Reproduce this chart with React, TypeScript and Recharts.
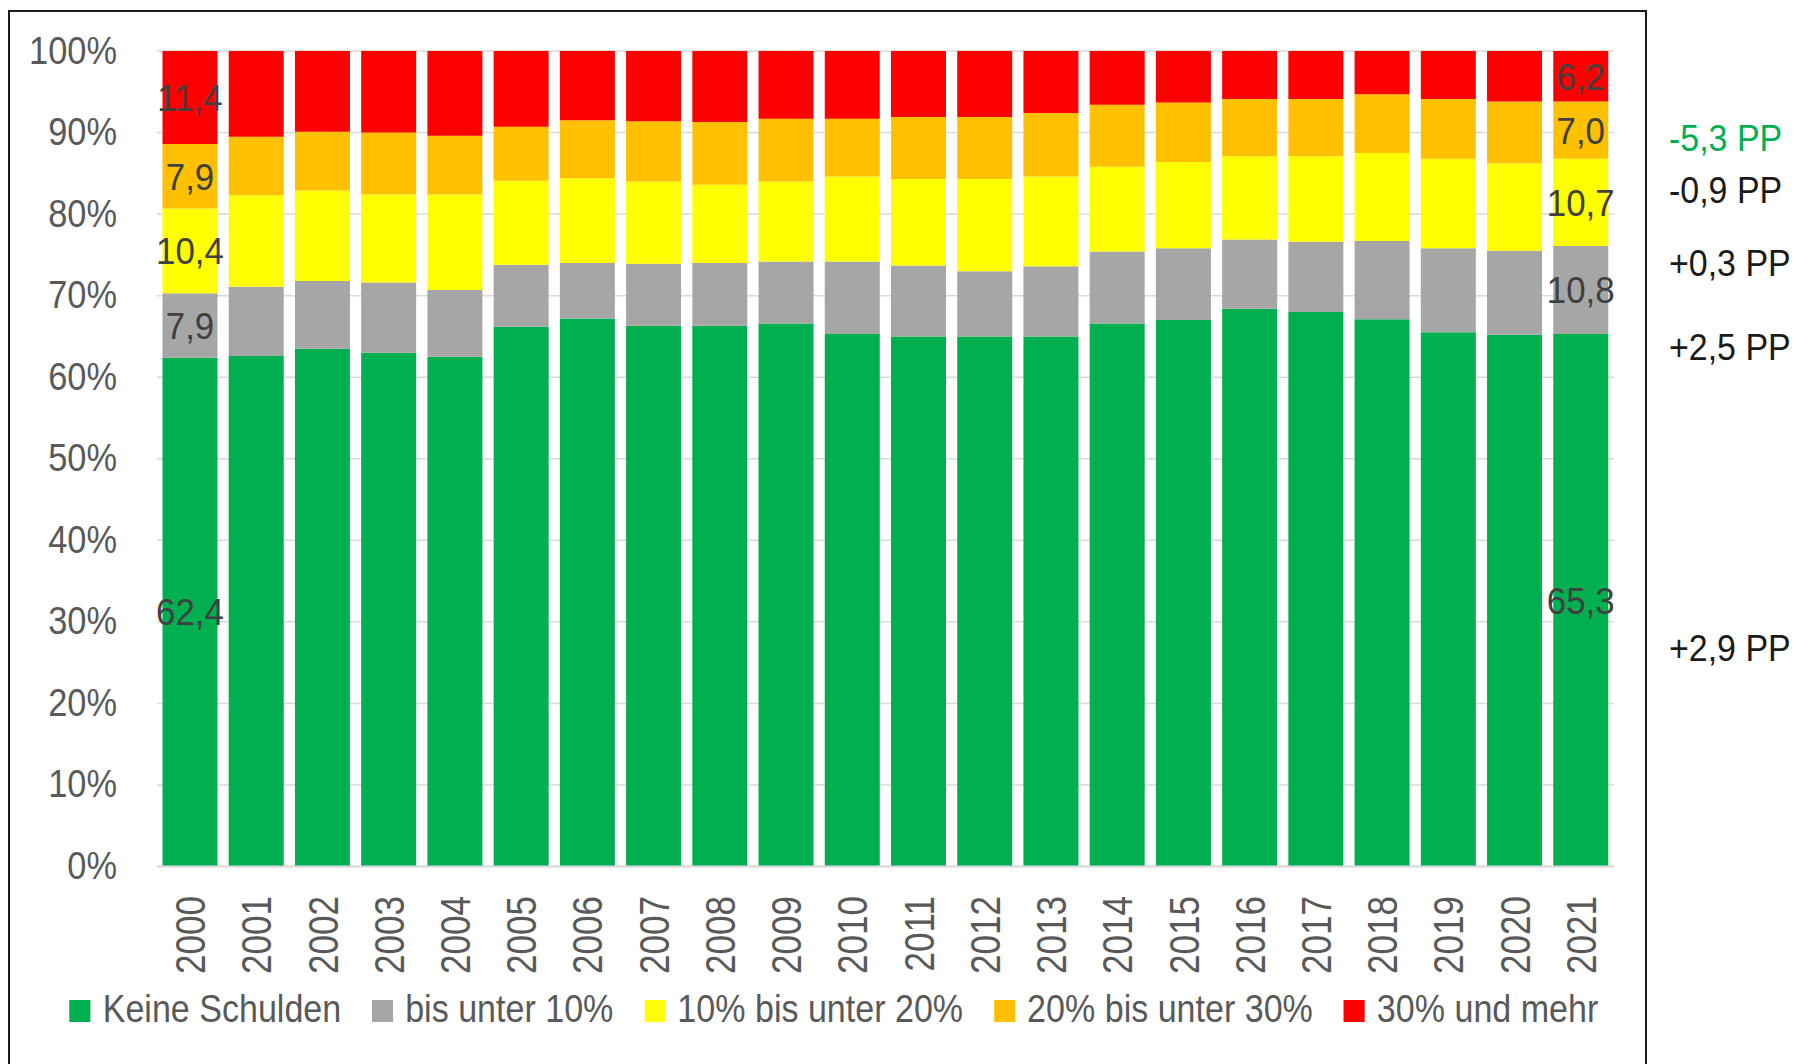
import React from 'react';
import { BarChart, Bar, XAxis, YAxis, CartesianGrid, Legend, LabelList } from 'recharts';

// ---- data ----
const years = ['2000', '2001', '2002', '2003', '2004', '2005', '2006', '2007', '2008', '2009', '2010',
  '2011', '2012', '2013', '2014', '2015', '2016', '2017', '2018', '2019', '2020', '2021'];
const keineSchulden = [62.4, 62.6, 63.5, 63.0, 62.5, 66.2, 67.2, 66.3, 66.3, 66.6, 65.3, 65.0, 65.0, 65.0, 66.6, 67.0, 68.4, 68.0, 67.1, 65.5, 65.2, 65.3];
const bisUnter10 = [7.9, 8.5, 8.3, 8.6, 8.2, 7.6, 6.8, 7.6, 7.7, 7.6, 8.9, 8.7, 8.0, 8.6, 8.8, 8.8, 8.5, 8.6, 9.6, 10.3, 10.3, 10.8];
const von10bis20 = [10.4, 11.2, 11.1, 10.8, 11.7, 10.3, 10.4, 10.1, 9.6, 9.8, 10.4, 10.6, 11.3, 11.0, 10.4, 10.6, 10.2, 10.5, 10.8, 11.0, 10.7, 10.7];
const von20bis30 = [7.9, 7.2, 7.2, 7.6, 7.2, 6.6, 7.1, 7.4, 7.7, 7.7, 7.1, 7.6, 7.6, 7.8, 7.6, 7.3, 7.0, 7.0, 7.2, 7.3, 7.6, 7.0];
const ab30 = [11.4, 10.5, 9.9, 10.0, 10.4, 9.3, 8.5, 8.6, 8.7, 8.3, 8.3, 8.1, 8.1, 7.6, 6.6, 6.3, 5.9, 5.9, 5.3, 5.9, 6.2, 6.2];

const seriesKeys = ['s0', 's1', 's2', 's3', 's4'];
const seriesNames = ['Keine Schulden', 'bis unter 10%', '10% bis unter 20%', '20% bis unter 30%', '30% und mehr'];
const seriesColors = ['#00B050', '#A6A6A6', '#FFFF00', '#FFC000', '#FF0000'];
const seriesValues = [keineSchulden, bisUnter10, von10bis20, von20bis30, ab30];

const yTicks = [0, 10, 20, 30, 40, 50, 60, 70, 80, 90, 100];
const labelledYears = ['2000', '2021'];

const changeLabels = ['-5,3 PP', '-0,9 PP', '+0,3 PP', '+2,5 PP', '+2,9 PP'];
const changeColors = ['#00B050', '#1a1a1a', '#1a1a1a', '#1a1a1a', '#1a1a1a'];

const data = years.map((year, i) => {
  const row: any = { year };
  seriesKeys.forEach((k, j) => { row[k] = seriesValues[j][i]; });
  return row;
});

// ---- styles / layout ----
const FONT = "'Liberation Sans', Arial, sans-serif";
const AXIS_COLOR = '#595959';
const LABEL_COLOR = '#404040';
const GRID_COLOR = '#D9D9D9';
const changeCenters = [137, 189, 262, 346, 647];

const YTick = (props: any) => {
  const { x, y, payload } = props;
  return (
    <text transform={`translate(${x - 40},${y + 12.5}) scale(0.87,1)`} textAnchor="end" fill={AXIS_COLOR} fontFamily={FONT} fontSize={39.5}>
      {payload.value}%
    </text>
  );
};

const XTick = (props: any) => {
  const { x, y, payload } = props;
  return (
    <text transform={`translate(${x},${y + 29.5}) rotate(-90) scale(0.835,1)`} x={0} y={15} textAnchor="end" fill={AXIS_COLOR} fontFamily={FONT} fontSize={42}>
      {payload.value}
    </text>
  );
};

const renderLabel = (props: any) => {
  const { x, y, width, height, value, index } = props;
  if (!labelledYears.includes(years[index])) return null;
  const txt = Number(value).toFixed(1).replace('.', ',');
  return (
    <text transform={`translate(${x + width / 2},${y + height / 2 + 13.4}) scale(0.93,1)`} textAnchor="middle" fill={LABEL_COLOR} fontFamily={FONT} fontSize={37.5}>
      {txt}
    </text>
  );
};

const LEG_SX = 0.88;
const renderLegend = () => (
  <div style={{ position: 'relative', left: 834 - 1000, width: 2000, transform: `scaleX(${LEG_SX})`, transformOrigin: '50% 50%' }}>
    <div style={{ display: 'flex', flexWrap: 'nowrap', whiteSpace: 'nowrap', justifyContent: 'center', alignItems: 'baseline', gap: 31 / LEG_SX, fontFamily: FONT, fontSize: 38.7, lineHeight: 1, color: AXIS_COLOR }}>
      {seriesNames.map((name, i) => (
        <div key={name} style={{ display: 'flex', alignItems: 'baseline' }}>
          <span style={{ display: 'inline-block', width: 21 / LEG_SX, height: 22, background: seriesColors[i], marginRight: 12 / LEG_SX }} />
          <span>{name}</span>
        </div>
      ))}
    </div>
  </div>
);

export default function App() {
  return (
    <div style={{ position: 'absolute', left: 0, top: 0, width: 1795, height: 1064, overflow: 'hidden', background: '#fff' }}>
      <div style={{ position: 'absolute', left: 8, top: 10, width: 1635, height: 1070, border: '2px solid #1a1a1a', borderBottom: 'none' }} />
      <div style={{ position: 'absolute', left: 0, top: 0 }}>
        <BarChart width={1795} height={1064} data={data} margin={{ top: 51, right: 181, bottom: 0, left: 0 }} barCategoryGap="8.3%">
          <CartesianGrid vertical={false} stroke={GRID_COLOR} strokeWidth={1.5} />
          <XAxis dataKey="year" height={197.5} tickLine={false} tickSize={0} tickMargin={0} axisLine={{ stroke: GRID_COLOR, strokeWidth: 2 }} tick={<XTick />} interval={0} />
          <YAxis width={157} domain={[0, 100]} allowDataOverflow ticks={yTicks} tickLine={false} tickSize={0} tickMargin={0} axisLine={false} tick={<YTick />} interval={0} />
          <Legend layout="horizontal" verticalAlign="middle" align="center" content={renderLegend}
            wrapperStyle={{ position: 'absolute', top: 990, left: 0, width: 1795, height: 50 }} />
          {seriesKeys.map((k, j) => (
            <Bar key={k} dataKey={k} name={seriesNames[j]} stackId="a" fill={seriesColors[j]} isAnimationActive={false}>
              <LabelList dataKey={k} content={renderLabel} />
            </Bar>
          ))}
        </BarChart>
      </div>
      <svg style={{ position: 'absolute', left: 0, top: 0 }} width={1795} height={1064}>
        {changeLabels.map((t, i) => (
          <text key={t} transform={`translate(1669,${changeCenters[i] + 13.5}) scale(0.9,1)`} fill={changeColors[i]} fontFamily={FONT} fontSize={37.7}>{t}</text>
        ))}
      </svg>
    </div>
  );
}
